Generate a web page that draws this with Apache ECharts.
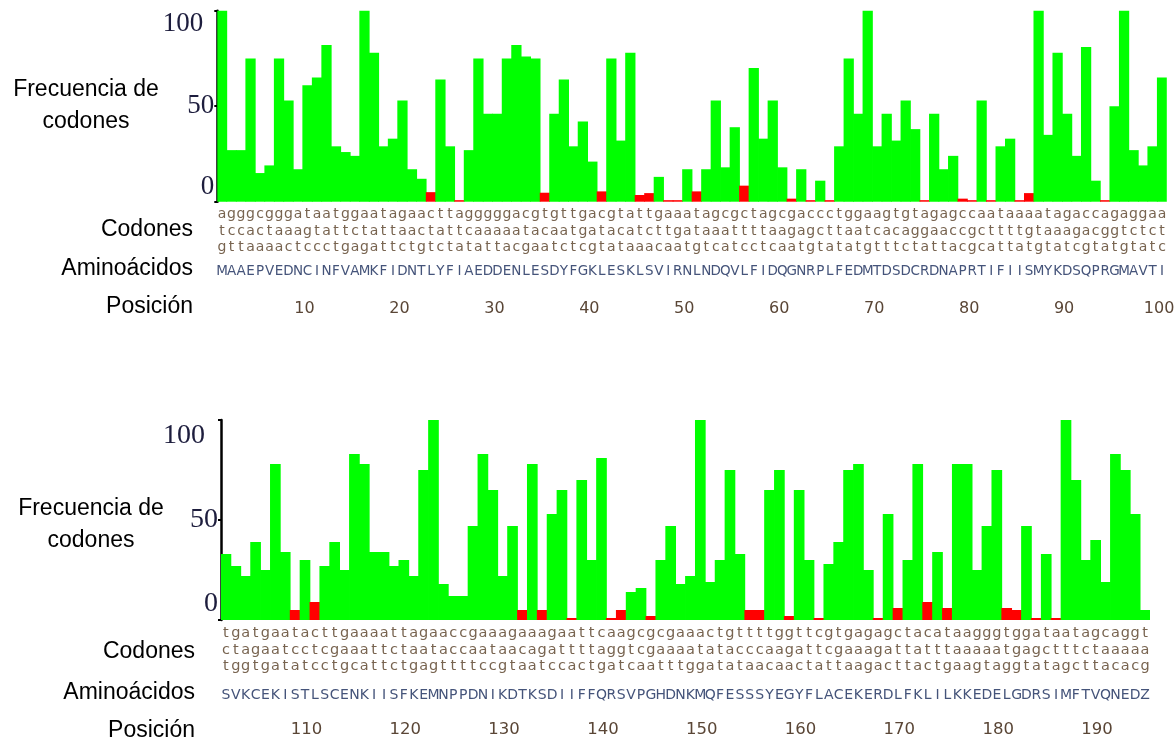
<!DOCTYPE html>
<html>
<head>
<meta charset="utf-8">
<script src="https://cdn.jsdelivr.net/npm/echarts@6/dist/echarts.min.js"></script>
<style>
  html, body { margin: 0; padding: 0; background: #ffffff; }
  #chart { width: 1174px; height: 741px; }
</style>
</head>
<body>
<div id="chart"></div>
<script>
// Codon usage frequency per residue, residues 1-100
const freqTop = [
  100, 27, 27, 75, 15, 19, 75, 53, 17, 61,
  65, 82, 29, 26, 24, 100, 78, 29, 33, 53,
  17, 12, 5, 64, 29, 0.8, 27, 75, 46, 46,
  75, 82, 76, 75, 4.7, 46, 64, 29, 42, 21,
  5.4, 75, 32, 78, 3.5, 4.5, 13, 0.8, 0.8, 17,
  5.4, 17, 53, 18, 39, 8.4, 70, 33, 53, 18,
  1.6, 17, 0.8, 11, 0.8, 29, 75, 46, 100, 29,
  46, 32, 53, 38, 0.8, 46, 17, 24, 1.6, 0.8,
  53, 0.8, 29, 33, 0.8, 4.5, 100, 35, 78, 46,
  24, 81, 11, 0.8, 50, 100, 27, 19, 29, 65
];
// residues whose codon is rare (drawn in red)
const rareTop = [23, 26, 35, 41, 45, 46, 48, 49, 51, 56, 61, 63, 65, 75, 79, 80, 82, 85, 86, 94];
const codonTop = [
  'agggcgggataatggaatagaacttagggggacgtgttgacgtattgaaatagcgctagcgaccctggaagtgtagagccaataaaatagaccagaggaa',
  'tccactaaagtattctattaactattcaaaaatacaatgatacatcttgataaattttaagagcttaatcacaggaaccgcttttgtaaagacggtctct',
  'gttaaaactccctgagattctgtctatattacgaatctcgtataaacaatgtcatcctcaatgtatatgtttctattacgcattatgtatcgtatgtatc'
];
const aminoTop = 'MAAEPVEDNCINFVAMKFIDNTLYFIAEDDENLESDYFGKLESKLSVIRNLNDQVLFIDQGNRPLFEDMTDSDCRDNAPRTIFIISMYKDSQPRGMAVTI';

// Residues 101-194
const freqBottom = [
  33, 27, 22, 39, 25, 78, 34, 5, 30, 9,
  27, 39, 25, 83, 78, 34, 34, 27, 30, 22,
  75, 100, 18, 12, 12, 47, 83, 65, 22, 47,
  5, 78, 5, 53, 65, 1, 70, 30, 81, 1,
  5, 14, 16, 2, 30, 47, 18, 22, 100, 19,
  30, 75, 33, 5, 5, 65, 75, 2, 65, 30,
  1, 28, 39, 75, 78, 25, 1, 53, 6, 30,
  78, 9, 34, 6, 78, 78, 25, 47, 75, 6,
  5, 47, 1, 33, 1, 100, 70, 30, 40, 19,
  83, 75, 53, 5
];
const rareBottom = [108, 110, 131, 133, 136, 140, 141, 144, 154, 155, 158, 161, 167, 169, 172, 174, 180, 181, 183, 185];
const codonBottom = [
  'tgatgaatacttgaaaattagaaccgaaagaaagaattcaagcgcgaaactgttttggttcgtgagagctacataagggtggataatagcaggt',
  'ctagaatcctcgaaattctaataccaataacagattttaggtcgaaaatatacccaagattcgaaagattatttaaaaatgagctttctaaaaa',
  'tggtgatatcctgcattctgagttttccgtaatccactgatcaatttggatataacaactattaagacttactgaagtaggtatagcttacacg'
];
const aminoBottom = 'SVKCEKISTLSCENKIISFKEMNPPDNIKDTKSDIIFFQRSVPGHDNKMQFESSSYEGYFLACEKERDLFKLILKKEDELGDRSIMFTVQNEDZ';

const yTicks = [0, 50, 100];
const rowTitles = ['Frecuencia de\ncodones', 'Codones', 'Aminoácidos', 'Posición'];

const GREEN = '#00ff00';
const RED = '#ff0000';
const CODON_COLOR = '#786450';
const AMINO_COLOR = '#45547a';
const POS_COLOR = '#5a4636';
const YLABEL_COLOR = '#1d1d3d';
const SANS = '"Liberation Sans", Arial, sans-serif';
const SERIF = '"Liberation Serif", "Times New Roman", serif';
const SEQ_FONT = '"DejaVu Sans", Verdana, sans-serif';

const panels = [
  {
    start: 1, freq: freqTop, rare: rareTop, codons: codonTop, amino: aminoTop,
    grid: { left: 217.3, top: 10.7, width: 949.5, height: 191 },
    codonOffsets: [12.5, 29.5, 46], aminoOffset: 70, posOffset: 107,
    codonSize: 14, aminoSize: 13.5, posSize: 16, posShift: 6,
    yFont: 27, yPad100: [27, 11, 0, 0], yPad0: [0, 0, 29, 0],
    titles: { x: 86, y1: 90, y2: 122, rx: 193, codY: 230, amiY: 269, posY: 307 }
  },
  {
    start: 101, freq: freqBottom, rare: rareBottom, codons: codonBottom, amino: aminoBottom,
    grid: { left: 221, top: 420, width: 929, height: 200 },
    codonOffsets: [13, 30, 46.5], aminoOffset: 75, posOffset: 110,
    codonSize: 14.5, aminoSize: 14, posSize: 16.5, posShift: 17,
    yFont: 28, yPad100: [32, 13, 0, 0], yPad0: [0, 0, 32, 0],
    titles: { x: 91, y1: 509, y2: 541, rx: 195, codY: 652, amiY: 693, posY: 731 }
  }
];

const grids = [], xAxes = [], yAxes = [], series = [], graphics = [];

function textAxis(gi, cats, offset, labelCfg) {
  return {
    gridIndex: gi, type: 'category', data: cats, position: 'bottom', offset: offset,
    axisLine: { show: false }, axisTick: { show: false }, splitLine: { show: false },
    axisLabel: Object.assign({ interval: 0, margin: 0, verticalAlign: 'middle' }, labelCfg)
  };
}

panels.forEach((p, gi) => {
  grids.push(Object.assign({ containLabel: false, outerBoundsMode: 'none' }, p.grid));
  const cats = p.freq.map((_, i) => String(p.start + i));

  // bar axis
  const barAxisIndex = xAxes.length;
  xAxes.push({
    gridIndex: gi, type: 'category', data: cats,
    axisLine: { show: false }, axisTick: { show: false }, axisLabel: { show: false },
    splitLine: { show: false }
  });

  // the three nucleotide rows of each codon
  p.codons.forEach((row, r) => {
    xAxes.push(textAxis(gi, cats, p.codonOffsets[r], {
      formatter: (v, i) => row.charAt(i),
      fontFamily: SEQ_FONT, fontSize: p.codonSize, color: CODON_COLOR
    }));
  });

  // amino acid row
  xAxes.push(textAxis(gi, cats, p.aminoOffset, {
    formatter: (v, i) => p.amino.charAt(i),
    fontFamily: SEQ_FONT, fontSize: p.aminoSize, color: AMINO_COLOR
  }));

  // residue position row, labelled every 10
  xAxes.push(textAxis(gi, cats, p.posOffset, {
    interval: (i, v) => Number(v) % 10 === 0,
    formatter: v => '{p|' + v + '}',
    rich: { p: { fontFamily: 'Tahoma, "DejaVu Sans", sans-serif', fontSize: p.posSize, color: POS_COLOR, padding: [0, p.posShift, 0, 0] } }
  }));

  yAxes.push({
    gridIndex: gi, type: 'value', min: yTicks[0], max: yTicks[2], interval: yTicks[1] - yTicks[0],
    axisLine: { show: true, lineStyle: { color: '#000', width: 2.5 } },
    axisTick: { show: true, length: 3, lineStyle: { color: '#000', width: 2 } },
    splitLine: { show: false },
    axisLabel: {
      margin: 3,
      formatter: v => v === yTicks[2] ? '{t|' + v + '}' : (v === yTicks[0] ? '{b|' + v + '}' : '{m|' + v + '}'),
      rich: {
        t: { fontFamily: SERIF, fontSize: p.yFont, color: YLABEL_COLOR, padding: p.yPad100 },
        m: { fontFamily: SERIF, fontSize: p.yFont, color: YLABEL_COLOR },
        b: { fontFamily: SERIF, fontSize: p.yFont, color: YLABEL_COLOR, padding: p.yPad0 }
      }
    }
  });

  // adjacent bars overlap slightly so that neighbouring columns join without seams
  series.push({
    type: 'bar', xAxisIndex: barAxisIndex, yAxisIndex: gi,
    barWidth: '108%', barGap: '0%', animation: false,
    data: p.freq.map((v, i) => ({
      value: v,
      itemStyle: { color: p.rare.indexOf(p.start + i) >= 0 ? RED : GREEN, borderWidth: 0 }
    }))
  });

  const t = p.titles;
  const titleStyle = { font: '23px ' + SANS, fill: '#000' };
  const freqLines = rowTitles[0].split('\n');
  graphics.push(
    { type: 'text', x: t.x, y: t.y1, style: Object.assign({ text: freqLines[0], align: 'center', verticalAlign: 'middle' }, titleStyle) },
    { type: 'text', x: t.x, y: t.y2, style: Object.assign({ text: freqLines[1], align: 'center', verticalAlign: 'middle' }, titleStyle) },
    { type: 'text', x: t.rx, y: t.codY, style: Object.assign({ text: rowTitles[1], align: 'right', verticalAlign: 'middle' }, titleStyle) },
    { type: 'text', x: t.rx, y: t.amiY, style: Object.assign({ text: rowTitles[2], align: 'right', verticalAlign: 'middle' }, titleStyle) },
    { type: 'text', x: t.rx, y: t.posY, style: Object.assign({ text: rowTitles[3], align: 'right', verticalAlign: 'middle' }, titleStyle) }
  );
});

const chart = echarts.init(document.getElementById('chart'), null, { renderer: 'canvas' });
chart.setOption({
  animation: false,
  backgroundColor: '#ffffff',
  grid: grids,
  xAxis: xAxes,
  yAxis: yAxes,
  series: series,
  graphic: graphics
});
</script>
</body>
</html>
